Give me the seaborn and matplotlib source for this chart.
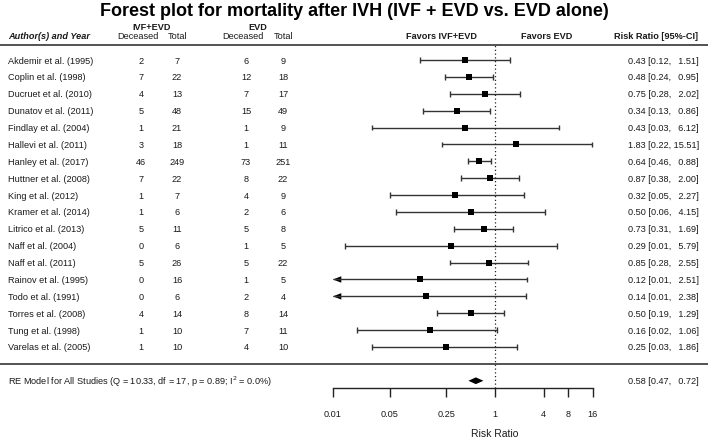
import numpy as np
import pandas as pd
import matplotlib.pyplot as plt
import matplotlib.transforms as mtransforms
import seaborn as sns

# study table
studies = ["Akdemir et al. (1995)", "Coplin et al. (1998)", "Ducruet et al. (2010)",
           "Dunatov et al. (2011)", "Findlay et al. (2004)", "Hallevi et al. (2011)",
           "Hanley et al. (2017)", "Huttner et al. (2008)", "King et al. (2012)",
           "Kramer et al. (2014)", "Litrico et al. (2013)", "Naff et al. (2004)",
           "Naff et al. (2011)", "Rainov et al. (1995)", "Todo et al. (1991)",
           "Torres et al. (2008)", "Tung et al. (1998)", "Varelas et al. (2005)"]
ivf_deceased = [2, 7, 4, 5, 1, 3, 46, 7, 1, 1, 5, 0, 5, 0, 0, 4, 1, 1]
ivf_total = [7, 22, 13, 48, 21, 18, 249, 22, 7, 6, 11, 6, 26, 16, 6, 14, 10, 10]
evd_deceased = [6, 12, 7, 15, 1, 1, 73, 8, 4, 2, 5, 1, 5, 1, 2, 8, 7, 4]
evd_total = [9, 18, 17, 49, 9, 11, 251, 22, 9, 6, 8, 5, 22, 5, 4, 14, 11, 10]

# risk ratios with 95% CI
rr = [0.43, 0.48, 0.75, 0.34, 0.43, 1.83, 0.64, 0.87, 0.32, 0.50, 0.73, 0.29,
      0.85, 0.12, 0.14, 0.50, 0.16, 0.25]
ci_low = [0.12, 0.24, 0.28, 0.13, 0.03, 0.22, 0.46, 0.38, 0.05, 0.06, 0.31, 0.014,
          0.28, 0.0055, 0.0086, 0.19, 0.02, 0.03]
ci_high = [1.51, 0.95, 2.02, 0.86, 6.12, 15.51, 0.88, 2.00, 2.27, 4.15, 1.69, 5.79,
           2.55, 2.51, 2.38, 1.29, 1.06, 1.86]

re_est, re_low, re_high = 0.58, 0.47, 0.72
re_label = "RE Model for All Studies (Q = 10.33, df = 17, p = 0.89; I$^2$ = 0.0%)"

xticks = [0.01, 0.05, 0.25, 1, 4, 8, 16]
xtick_labels = ["0.01", "0.05", "0.25", "1", "4", "8", "16"]

k = len(studies)
df = pd.DataFrame({"study": studies, "rr": rr, "lo": ci_low, "hi": ci_high})
df["row"] = np.arange(k, 0, -1)

sns.set_theme(style="white")
plt.rcParams["font.family"] = ["Liberation Sans", "DejaVu Sans"]

W, H = 708, 439
fig = plt.figure(figsize=(W / 100, H / 100), dpi=100)
ax = fig.add_axes([0, 0, 1, 1])
ax.set_xscale("log")

# pixel layout: x=1 at 495px, 35.2px per log unit; row spacing 16.88px
x0, pxu = 495, 35.2
ax.set_xlim(np.exp(-x0 / pxu), np.exp((W - x0) / pxu))
row_px = 16.88
ax.set_ylim(1 - (H - 348) / row_px, 1 + 348 / row_px)

alim = 0.01
txt = "#1a1a1a"
tr = mtransforms.blended_transform_factory(ax.transAxes, ax.transData)

def px(x):
    return x / W

# CI lines, caps and arrows
lo_clip = df["lo"].clip(lower=alim)
ax.hlines(df["row"], lo_clip, df["hi"], color="#333333", lw=1)
cap = 0.17
ax.vlines(df["hi"], df["row"] - cap, df["row"] + cap, color="#333333", lw=1)
normal = df[df["lo"] >= alim]
ax.vlines(normal["lo"], normal["row"] - cap, normal["row"] + cap, color="#333333", lw=1)
for _, r in df[df["lo"] < alim].iterrows():
    ax.fill([alim, alim * 1.27, alim * 1.27], [r["row"], r["row"] + 0.19, r["row"] - 0.19],
            color="black", lw=0)

sns.scatterplot(data=df, x="rr", y="row", marker="s", s=13, color="black",
                edgecolor="black", linewidth=0, ax=ax, zorder=3, legend=False)
ax.set_xlabel("")
ax.set_ylabel("")

# summary diamond
d = 0.2
ax.fill([re_low, re_est, re_high, re_est], [-1, -1 + d, -1, -1 - d], color="black", lw=0)

# reference line
ax.vlines(1, -1.4, k + 0.9, color="#222222", lw=0.9, linestyles=(0, (1, 2)))

# horizontal separators
ax.axhline(k + 0.9, color="#444444", lw=1.3)
ax.axhline(0, color="#444444", lw=1.3)

# bottom axis
ax.spines["bottom"].set_visible(True)
ax.spines["bottom"].set_position(("data", -1.4))
ax.spines["bottom"].set_bounds(xticks[0], xticks[-1])
ax.spines["bottom"].set_color("#222222")
ax.spines["bottom"].set_linewidth(1)
for s in ["top", "left", "right"]:
    ax.spines[s].set_visible(False)
ax.set_xticks(xticks)
ax.set_xticklabels(xtick_labels)
ax.xaxis.set_minor_locator(plt.NullLocator())
ax.tick_params(axis="x", which="major", direction="out", length=6.5, width=1,
               color="#222222", labelsize=6.6, pad=9, labelcolor=txt, bottom=True)
ax.set_yticks([])
ax.text(1, 1 + (348 - 434) / row_px, "Risk Ratio", ha="center", va="center",
        fontsize=7.5, color=txt)

# table text
fs = 6.6
for _, r in df.iterrows():
    i = int(k - r["row"])
    y = r["row"]
    ax.text(px(8), y, r["study"], transform=tr, ha="left", va="center", fontsize=fs, color=txt)
    ax.text(px(141), y, str(ivf_deceased[i]), transform=tr, ha="center", va="center", fontsize=fs, color=txt)
    ax.text(px(177), y, str(ivf_total[i]), transform=tr, ha="center", va="center", fontsize=fs, color=txt)
    ax.text(px(246), y, str(evd_deceased[i]), transform=tr, ha="center", va="center", fontsize=fs, color=txt)
    ax.text(px(283), y, str(evd_total[i]), transform=tr, ha="center", va="center", fontsize=fs, color=txt)
    ax.text(px(699), y, f"{r['rr']:.2f} [{r['lo']:.2f}, {r['hi']:5.2f}]".replace("  ", "\u2002 "),
            transform=tr, ha="right", va="center", fontsize=fs, color=txt)

ax.text(px(8), -1, re_label, transform=tr, ha="left", va="center", fontsize=fs, color=txt)
ax.text(px(699), -1, f"{re_est:.2f} [{re_low:.2f},  {re_high:.2f}]".replace("  ", "\u2002 "),
        transform=tr, ha="right", va="center", fontsize=fs, color=txt)

# headers
hy1, hy2 = 19.98, 19.45
ax.text(px(8), hy2, "Author(s) and Year", transform=tr, ha="left", va="center",
        fontsize=fs, fontweight="bold", fontstyle="italic", color=txt)
ax.text(px(152), hy1, "IVF+EVD", transform=tr, ha="center", va="center",
        fontsize=fs, fontweight="bold", color=txt)
ax.text(px(258), hy1, "EVD", transform=tr, ha="center", va="center",
        fontsize=fs, fontweight="bold", color=txt)
for xp, lab in [(138, "Deceased"), (178, "Total"), (243, "Deceased"), (284, "Total")]:
    ax.text(px(xp), hy2, lab, transform=tr, ha="center", va="center", fontsize=fs, color=txt)
ax.text(px(442), hy2, "Favors IVF+EVD", transform=tr, ha="center", va="center",
        fontsize=fs, fontweight="bold", color=txt)
ax.text(px(547), hy2, "Favors EVD", transform=tr, ha="center", va="center",
        fontsize=fs, fontweight="bold", color=txt)
ax.text(px(698), hy2, "Risk Ratio [95%-CI]", transform=tr, ha="right", va="center",
        fontsize=fs, fontweight="bold", color=txt)

fig.text(0.5, 1 - 12 / H, "Forest plot for mortality after IVH (IVF + EVD vs. EVD alone)",
         ha="center", va="center", fontsize=13, fontweight="bold", color="black")

fig.savefig("out.png", dpi=100, facecolor="white")
